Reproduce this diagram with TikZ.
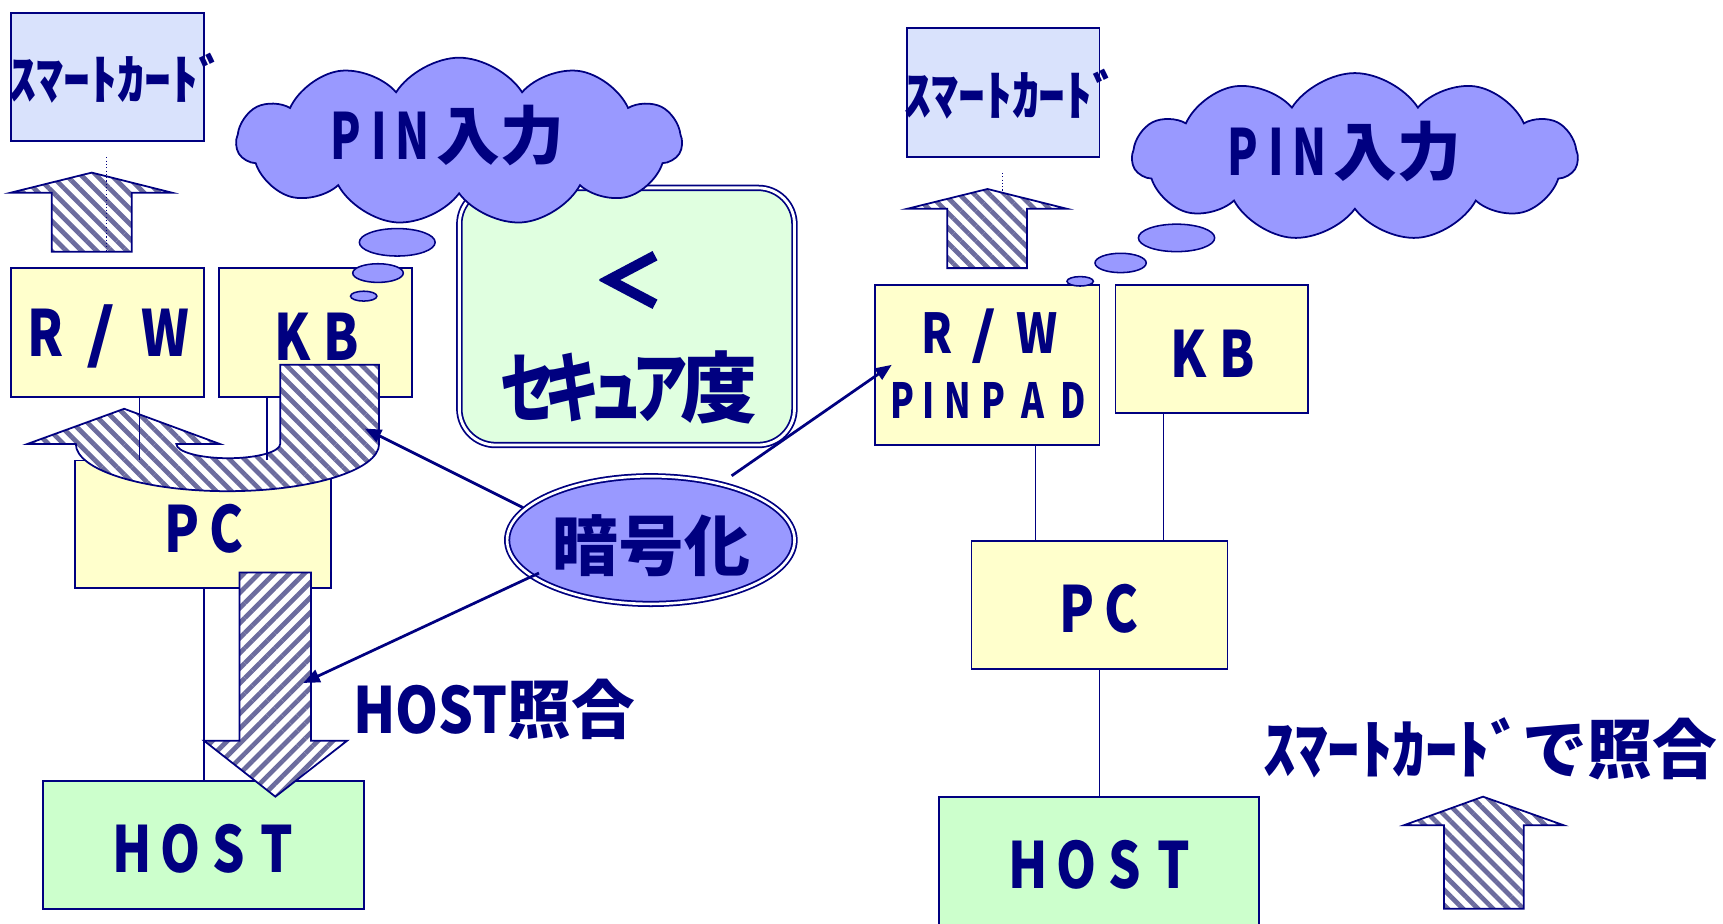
\documentclass[tikz,border=0pt]{standalone}
\usepackage{fontspec}
\usepackage{graphicx}
\newfontfamily\jp{Noto Sans CJK JP}
\newfontfamily\jpheavy{Noto Sans CJK JP}[BoldFeatures={FakeBold=3}]
\usetikzlibrary{shapes.geometric,shapes.symbols,patterns.meta,arrows.meta,calc}
\definecolor{navy}{RGB}{0,0,128}
\definecolor{cardblue}{RGB}{217,226,252}
\definecolor{boxyellow}{RGB}{255,255,204}
\definecolor{hostgreen}{RGB}{204,255,204}
\definecolor{secgreen}{RGB}{224,255,224}
\definecolor{cloudblue}{RGB}{153,153,255}
\definecolor{stripe}{RGB}{108,108,158}
\newcommand\lcell[3][0.8]{\makebox[#2pt][c]{\scalebox{#1}[1]{#3}}}
\newcommand\fsz[1]{\fontsize{#1pt}{#1pt}\selectfont}
\begin{document}
\begin{tikzpicture}[x=1pt,y=-1pt,
  box/.style={draw=navy,line width=1.6pt,inner sep=0pt,rectangle},
  lbl/.style={text=navy,inner sep=0pt,font=\jp\bfseries},
  conn/.style={draw=navy,line width=1.3pt},
  dots/.style={draw=navy,line width=1pt,dotted},
  hatchA/.style={draw=navy,line width=1.6pt,preaction={fill=white},
    pattern={Lines[angle=-45,distance=9.7pt,line width=4.3pt]},pattern color=stripe},
  hatchB/.style={draw=navy,line width=1.6pt,preaction={fill=white},
    pattern={Lines[angle=45,distance=9.7pt,line width=4.3pt]},pattern color=stripe},
  bubble/.style={ellipse,draw=navy,line width=1.4pt,fill=cloudblue,inner sep=0pt},
  thought/.style={cloud,cloud puffs=11,cloud puff arc=115,cloud ignores aspect,
    draw=navy,line width=1.6pt,fill=cloudblue,inner sep=0pt,
    minimum width=405pt,minimum height=153pt},
  encarrow/.style={draw=navy,line width=2.5pt,-{Triangle[length=15pt,width=12pt]}},
]
\useasboundingbox (0,0) rectangle (1568,840);
\clip (0,0) rectangle (1568,840);
\fill[white] (0,0) rectangle (1568,840);

% security box
\node[draw=navy,line width=1.6pt,double=white,double distance=2.6pt,fill=secgreen,
  rounded corners=33pt,minimum width=305pt,minimum height=234pt,inner sep=0pt] (sec) at (570.5,288) {};
% encryption ellipse
\node[ellipse,draw=navy,line width=1.6pt,double=white,double distance=2.4pt,fill=cloudblue,
  minimum width=261.6pt,minimum height=116.2pt,inner sep=0pt] (enc) at (592.3,491.5) {};

% ---------- left column ----------
\node[box,fill=cardblue,minimum width=175.5pt,minimum height=116.8pt] (smA) at (98,70) {};
\node[box,fill=boxyellow,minimum width=175.5pt,minimum height=116.8pt] (rwA) at (98,302.6) {};
\node[box,fill=boxyellow,minimum width=175.5pt,minimum height=116.8pt] (kbA) at (287,302.6) {};
\node[box,fill=boxyellow,minimum width=233pt,minimum height=116pt] (pcA) at (184.5,477) {};
\node[box,fill=hostgreen,minimum width=292pt,minimum height=116pt] (hostA) at (185,769) {};

\draw[hatchA] (47,229) -- (47,175.3) -- (10,175.3) -- (83.4,157.1) -- (156.2,175.3)
  -- (119.8,175.3) -- (119.8,229) -- cycle;
\coordinate (dA1) at ($(smA.south)+(-1,14)$);
\coordinate (dA2) at ($(rwA.north)+(-1,-16)$);
\draw[dots] (dA1) -- (dA2);

% U arrow KB -> R/W
\draw[hatchA] (255,332) -- (345,332) -- (345,404)
  arc[start angle=0,end angle=180,x radius=138,y radius=43]
  -- (25,404) -- (113,372) -- (200,404) -- (160.5,404)
  arc[start angle=180,end angle=0,x radius=47.25,y radius=13] -- cycle;

\coordinate (rwAs) at ($(rwA.south)+(29,0)$);
\coordinate (kbAs) at ($(kbA.south)+(-44,0)$);
\coordinate (pcAs) at ($(pcA.south)+(1,0)$);
\draw[conn] (rwAs) -- (rwAs |- pcA.north);
\draw[conn] (kbAs) -- (kbAs |- pcA.north);
\draw[conn] (pcAs) -- (pcAs |- hostA.north);

% down arrow PC -> HOST
\draw[hatchB] (218,521) -- (283,521) -- (283,674) -- (316,674) -- (250.6,725)
  -- (185.6,674) -- (218,674) -- cycle;

% clouds
\node[thought] (cloudA) at (417.8,129) {};
\node[bubble,minimum width=69pt,minimum height=25pt] (bA1) at (361.5,220.5) {};
\node[bubble,minimum width=46pt,minimum height=17pt] (bA2) at (344,248.5) {};
\node[bubble,minimum width=24pt,minimum height=9pt] (bA3) at (331,269.5) {};

% ---------- right column ----------
\node[box,fill=cardblue,minimum width=175pt,minimum height=116.8pt] (smB) at (913,84.2) {};
\node[box,fill=boxyellow,minimum width=204.2pt,minimum height=145.6pt] (rwB) at (898.4,332.2) {};
\node[box,fill=boxyellow,minimum width=174.8pt,minimum height=116.6pt] (kbB) at (1102.6,317.7) {};
\node[box,fill=boxyellow,minimum width=233pt,minimum height=116.8pt] (pcB) at (1000.5,550.4) {};
\node[box,fill=hostgreen,minimum width=291.2pt,minimum height=116.8pt] (hostB) at (1000.1,783.4) {};

\draw[hatchA] (862,244) -- (862,190) -- (825.6,190) -- (898.6,172) -- (971,190)
  -- (934.6,190) -- (934.6,244) -- cycle;
\coordinate (dB1) at ($(smB.south)+(-0.3,14)$);
\coordinate (dB2) at ($(smB.south)+(-0.3,30)$);
\draw[dots] (dB1) -- (dB2);

\coordinate (rwBs) at ($(rwB.south)+(43.8,0)$);
\coordinate (kbBs) at ($(kbB.south)+(-43.8,0)$);
\draw[conn] (rwBs) -- (rwBs |- pcB.north);
\draw[conn] (kbBs) -- (kbBs |- pcB.north);
\draw[conn] (pcB.south) -- (pcB.south |- hostB.north);

\node[thought] (cloudB) at (1233,143) {};
\node[bubble,minimum width=69.4pt,minimum height=25pt] (bB1) at (1070.7,216.5) {};
\node[bubble,minimum width=46.6pt,minimum height=17.6pt] (bB2) at (1019.8,239.3) {};
\node[bubble,minimum width=24pt,minimum height=8.6pt] (bB3) at (983,256) {};

\draw[hatchA] (1314,827) -- (1314,751) -- (1277.6,751) -- (1349.6,725) -- (1423,751)
  -- (1386.6,751) -- (1386.6,827) -- cycle;

% ---------- encryption arrows ----------
\coordinate (eA) at (476,462);
\coordinate (tA) at (332,390);
\coordinate (eB) at (490.5,521.5);
\coordinate (tB) at (276,621.5);
\coordinate (eC) at (665.8,433);
\coordinate (tC) at (811.5,332);
\draw[encarrow] (eA) -- (tA);
\draw[encarrow] (eB) -- (tB);
\draw[encarrow] (eC) -- (tC);

% ---------- texts ----------
\node[lbl,font=\jp\bfseries\fsz{49}] (smAt) at (107,71) {ｽﾏｰﾄｶｰﾄﾞ};
\node[lbl,font=\jp\bfseries\fsz{49}] (smBt) at (921,85.5) {ｽﾏｰﾄｶｰﾄﾞ};
\node[lbl,font=\jp\bfseries\fsz{58}] (rwAt) at (100.7,306.4) {\lcell{50}{R}\lcell[1.2]{50}{/}\lcell{68}{W}};
\node[lbl,font=\jp\bfseries\fsz{58}] (kbAt) at (288.3,306.4) {\lcell{44.6}{K}\lcell{44.6}{B}};
\node[lbl,font=\jp\bfseries\fsz{58}] (pcAt) at (186,481.5) {\lcell{40}{P}\lcell{40}{C}};
\node[lbl,font=\jp\bfseries\fsz{58}] (hostAt) at (186,772.7) {\lcell{44}{H}\lcell{44}{O}\lcell{44}{S}\lcell{44}{T}};
\node[lbl,font=\jp\bfseries\fsz{50}] (rwBt) at (900.4,305.8) {\lcell{42}{R}\lcell[1.2]{44}{/}\lcell{52}{W}};
\node[lbl,font=\jp\bfseries\fsz{44}] (pinpadt) at (901.8,364.7) {\lcell[0.72]{24}{P}\lcell[0.72]{24}{I}\lcell[0.72]{29}{N}\lcell[0.72]{36}{P}\lcell[0.72]{36}{A}\lcell[0.72]{36}{D}};
\node[lbl,font=\jp\bfseries\fsz{58}] (kbBt) at (1103.8,321.5) {\lcell{44.6}{K}\lcell{44.6}{B}};
\node[lbl,font=\jp\bfseries\fsz{58}] (pcBt) at (1000.5,554.3) {\lcell{40}{P}\lcell{40}{C}};
\node[lbl,font=\jp\bfseries\fsz{58}] (hostBt) at (1002,787) {\lcell{44}{H}\lcell{44}{O}\lcell{44}{S}\lcell{44}{T}};
\node[lbl,font=\jp\bfseries\fsz{58}] (pinAt) at (406.8,123.5) {\lcell[0.7]{30}{P}\lcell[0.7]{30}{I}\lcell[0.7]{30}{N}\hspace{7.5pt}入力};
\node[lbl,font=\jp\bfseries\fsz{58}] (pinBt) at (1223.2,138) {\lcell[0.7]{30}{P}\lcell[0.7]{30}{I}\lcell[0.7]{30}{N}\hspace{7.5pt}入力};
\node[lbl,font=\jpheavy\bfseries\fsz{64}] (ltt) at (572,254.8) {＜};
\node[lbl,font=\jp\bfseries\fsz{70}] (sect) at (573.5,352.6) {\lcell[0.72]{40}{セ}\lcell[0.72]{40}{キ}\lcell[0.72]{39}{ュ}\lcell[0.72]{42}{ア}\lcell[1]{64}{度}};
\node[lbl,font=\jp\bfseries\fsz{60}] (enct) at (593,497) {暗号化};
\node[lbl,font=\jp\bfseries\fsz{58}] (hostq) at (449.8,646) {\scalebox{0.86}[1]{HOST}照合};
\node[lbl,font=\jp\bfseries\fsz{59}] (smq) at (1356,681) {ｽﾏｰﾄｶｰﾄﾞで照合};
\end{tikzpicture}
\end{document}
